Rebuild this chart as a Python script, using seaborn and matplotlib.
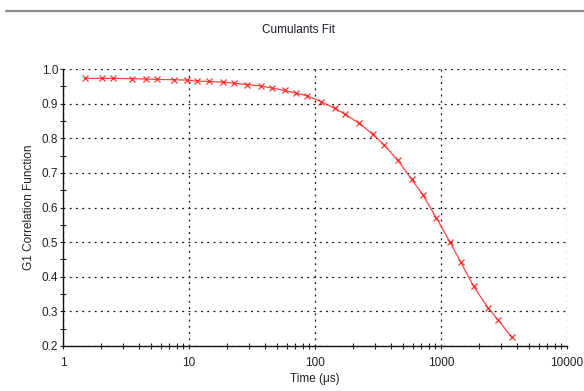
import matplotlib
matplotlib.use("Agg")
import matplotlib.pyplot as plt
import matplotlib.ticker as mticker
from matplotlib.lines import Line2D
import numpy as np
import pandas as pd
import seaborn as sns

time_us = [1.495, 2.03, 2.51, 3.53, 4.56, 5.61, 7.62, 9.60, 11.53, 14.52,
           18.56, 22.8, 29.1, 37.2, 45.5, 57.7, 70.9, 85.9, 111, 144.7,
           173.8, 224.5, 288.4, 354.6, 452, 586, 716.6, 918, 1179, 1436,
           1815, 2353, 2851, 3649]
g1 = [0.973, 0.973, 0.973, 0.972, 0.971, 0.970, 0.969, 0.968, 0.965, 0.964,
      0.962, 0.959, 0.955, 0.951, 0.945, 0.938, 0.930, 0.923, 0.906, 0.886,
      0.869, 0.843, 0.811, 0.780, 0.737, 0.681, 0.637, 0.570, 0.500, 0.442,
      0.372, 0.311, 0.274, 0.225]
x_ticks = [1, 10, 100, 1000, 10000]
x_ticklabels = ["1", "10", "100", "1000", "10000"]
y_ticks = [0.2, 0.3, 0.4, 0.5, 0.6, 0.7, 0.8, 0.9, 1.0]

df = pd.DataFrame({"Time": time_us, "G1": g1})

sns.set_theme(style="white")
plt.rcParams["font.family"] = ["Liberation Sans", "DejaVu Sans"]

W, H = 584, 391
fig = plt.figure(figsize=(W / 100, H / 100), dpi=100)
ax = fig.add_axes([63 / W, 1 - 346 / H, (567 - 63) / W, (346 - 69) / H])

sns.lineplot(data=df, x="Time", y="G1", ax=ax, color="#ff3030", lw=0.9,
             marker="x", markersize=4.5, markeredgewidth=0.9,
             markeredgecolor="#ff2020", alpha=0.9)

ax.set_xscale("log")
ax.set_xlim(1, 10000)
ax.set_ylim(0.2, 1.0)

ax.set_xticks(x_ticks)
ax.set_xticklabels(x_ticklabels)
ax.xaxis.set_minor_locator(mticker.LogLocator(base=10, subs=np.arange(2, 10), numticks=20))
ax.xaxis.set_minor_formatter(mticker.NullFormatter())
ax.set_yticks(y_ticks)
ax.yaxis.set_major_formatter(mticker.FormatStrFormatter("%.1f"))
ax.yaxis.set_minor_locator(mticker.MultipleLocator(0.1, offset=0.05))

ax.tick_params(axis="both", which="major", labelsize=8.5, colors="#222222",
               length=2, width=0.8, direction="out", pad=1.5, bottom=True, left=True)
ax.tick_params(axis="both", which="minor", length=5, width=0.8,
               direction="inout", color="#222222", bottom=True, left=True)
ax.tick_params(axis="x", which="major", pad=6)

ax.grid(True, which="major", color="#111111", lw=0.9, linestyle=(0, (1.5, 3.5)))
for s in ["top", "right"]:
    ax.spines[s].set_visible(False)
for s in ["left", "bottom"]:
    ax.spines[s].set_color("#111111")
    ax.spines[s].set_linewidth(1.0)

ax.set_xlabel("Time (μs)", fontsize=8.5, color="#222222", labelpad=3)
ax.set_ylabel("G1 Correlation Function", fontsize=8.5, color="#222222")
ax.yaxis.set_label_coords(-(63 - 35) / (567 - 63), 0.5)

fig.text(298 / W, 1 - 30 / H, "Cumulants Fit", ha="center", va="center",
         fontsize=8.5, color="#1a1a2a")
fig.add_artist(Line2D([6 / W, 1.0], [1 - 11 / H, 1 - 11 / H], color="#8a8a8a", lw=1.6))

fig.savefig("out.png", dpi=100)
